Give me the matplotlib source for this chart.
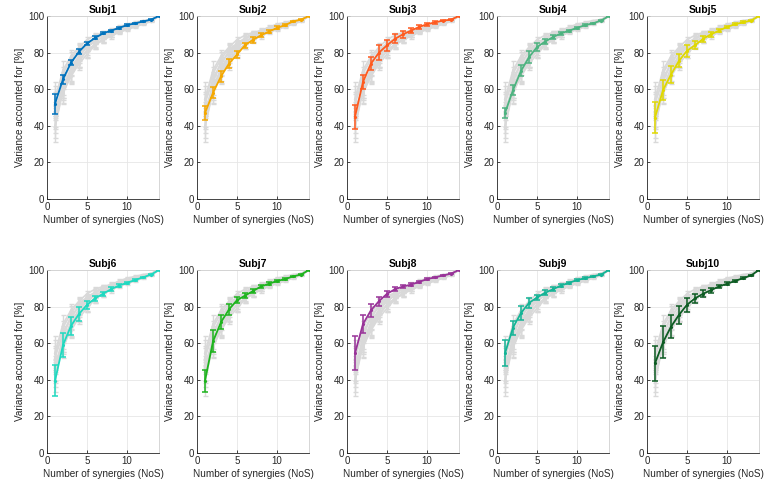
import matplotlib
matplotlib.use("Agg")
import matplotlib.pyplot as plt
import numpy as np

plt.rcParams['font.family'] = ['Liberation Sans', 'DejaVu Sans']

nos = list(range(1, 15))
subjects = ["Subj1", "Subj2", "Subj3", "Subj4", "Subj5",
            "Subj6", "Subj7", "Subj8", "Subj9", "Subj10"]

vaf_mean = {
    "Subj1":  [52, 65.5, 74.5, 80.5, 85, 88, 90.5, 92, 93.5, 95, 96, 97, 98, 100],
    "Subj2":  [47, 58, 67, 74, 79, 84, 87, 89.5, 91.5, 93.5, 95, 97, 98, 100],
    "Subj3":  [45, 64, 74, 80, 84, 87.5, 90, 92, 94, 95.5, 96.5, 97.5, 98, 100],
    "Subj4":  [47, 59.5, 70, 77.5, 83, 86, 88.5, 90.5, 92, 93.5, 95, 96, 97.5, 100],
    "Subj5":  [44.5, 59.5, 68, 75.5, 81, 84, 87.5, 90, 92, 94, 95.5, 96.5, 97.5, 100],
    "Subj6":  [39.5, 59, 69.5, 76, 81, 84.5, 87, 89.5, 91.5, 93, 94.5, 96, 97.5, 100],
    "Subj7":  [39.5, 61, 71.5, 78.5, 83.5, 86, 88.5, 91, 92.5, 94, 95, 96.5, 97.5, 100],
    "Subj8":  [54.5, 70.5, 78, 83, 87, 89.5, 91, 92, 93.5, 95, 96, 97, 98, 100],
    "Subj9":  [54.5, 68.5, 76.5, 82, 85, 87.5, 89.5, 91.5, 93, 94.5, 95.5, 96.5, 97.5, 100],
    "Subj10": [49, 60.5, 69, 75.5, 81, 84.5, 87, 89, 91, 92.5, 94, 95.5, 97, 100],
}
vaf_err = {
    "Subj1":  [5.5, 2.5, 1.5, 1.5, 1, 0.8, 0.6, 0.5, 0.5, 0.5, 0.4, 0.4, 0.3, 0],
    "Subj2":  [4, 3, 3, 2.5, 2, 1.5, 1.5, 1.2, 1, 0.8, 0.6, 0.5, 0.4, 0],
    "Subj3":  [6.5, 4, 3.5, 4, 3, 2.5, 2, 1.5, 1, 0.8, 0.6, 0.5, 0.4, 0],
    "Subj4":  [3, 2.8, 3, 3.3, 2, 1.2, 1, 0.8, 0.6, 0.5, 0.5, 0.4, 0.3, 0],
    "Subj5":  [8.5, 5.5, 4.8, 3.5, 3.3, 2.3, 1.5, 1.3, 1, 0.8, 0.6, 0.5, 0.4, 0],
    "Subj6":  [8.5, 6.5, 5, 3.8, 2.3, 1.5, 1.2, 1, 0.8, 0.6, 0.5, 0.4, 0.3, 0],
    "Subj7":  [6, 6, 3.8, 3, 1.7, 1.3, 1, 0.8, 0.7, 0.6, 0.5, 0.4, 0.3, 0],
    "Subj8":  [9.3, 5, 3.5, 2.4, 1.5, 1, 0.8, 0.7, 0.6, 0.5, 0.4, 0.4, 0.3, 0],
    "Subj9":  [7.2, 3.8, 3.8, 2.8, 1.6, 1.3, 1, 0.8, 0.7, 0.6, 0.5, 0.4, 0.3, 0],
    "Subj10": [9.6, 8.8, 6.2, 5.1, 3.9, 2.5, 1.8, 1.3, 1, 0.8, 0.7, 0.6, 0.4, 0],
}
colors = {
    "Subj1": "#0072BD", "Subj2": "#F5A800", "Subj3": "#FF5A1F",
    "Subj4": "#4DB380", "Subj5": "#E0D800", "Subj6": "#1ED9C0",
    "Subj7": "#1EB41E", "Subj8": "#993399", "Subj9": "#14B496",
    "Subj10": "#0D5C23",
}

W, H = 774, 492
fig = plt.figure(figsize=(W / 100, H / 100), dpi=100)
axc = "#262626"

for k, s in enumerate(subjects):
    row, col = divmod(k, 5)
    left = 47 + 150 * col
    top = 16 if row == 0 else 270
    bottom = 199 if row == 0 else 453
    ax = fig.add_axes([left / W, 1 - bottom / H, 112 / W, (bottom - top) / H])
    for o in subjects:
        if o == s:
            continue
        ax.errorbar(nos, vaf_mean[o], yerr=vaf_err[o], color="#D9D9D9",
                    lw=1.2, elinewidth=1.0, capsize=1.8, capthick=1.0,
                    marker='.', ms=2.5, zorder=1)
    ax.errorbar(nos, vaf_mean[s], yerr=vaf_err[s], color=colors[s],
                lw=1.3, elinewidth=1.1, capsize=2.0, capthick=1.1,
                marker='.', ms=2.5, zorder=3)
    ax.set_xlim(0, 14)
    ax.set_ylim(0, 100)
    ax.set_xticks([0, 5, 10])
    ax.set_yticks([0, 20, 40, 60, 80, 100])
    ax.grid(True, color="#E6E6E6", lw=0.6, zorder=0)
    ax.set_axisbelow(True)
    ax.tick_params(direction='in', length=2.5, width=0.6, colors=axc,
                   labelsize=7, top=False, right=False, pad=2)
    for sp in ['left', 'bottom']:
        ax.spines[sp].set_color(axc)
        ax.spines[sp].set_linewidth(0.6)
    for sp in ['top', 'right']:
        ax.spines[sp].set_color("#D0D0D0")
        ax.spines[sp].set_linewidth(0.6)
    ax.set_title(s, fontsize=7.5, fontweight='bold', color='black', pad=2)
    ax.set_xlabel("Number of synergies (NoS)", fontsize=7.2, color=axc, labelpad=2)
    ax.set_ylabel("Variance accounted for [%]", fontsize=7.2, color=axc, labelpad=2)

fig.savefig("out.png", dpi=100, facecolor='white')
